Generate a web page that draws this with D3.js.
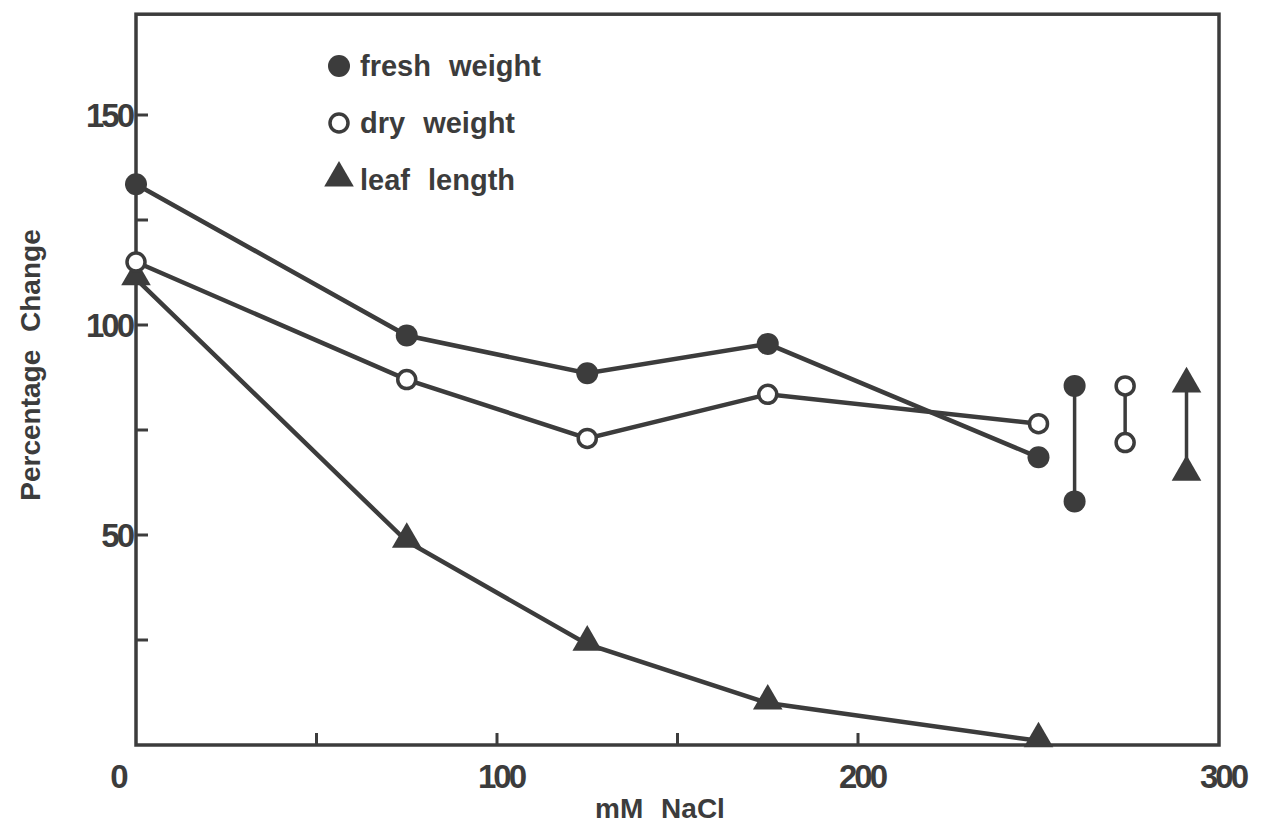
<!DOCTYPE html>
<html>
<head>
<meta charset="utf-8">
<script src="https://cdn.jsdelivr.net/npm/d3@7"></script>
<style>
  body { margin: 0; background: #fff; }
  svg text { font-family: "Liberation Sans", Arial, sans-serif; fill: #3c3c3c; font-weight: bold; }
</style>
</head>
<body>
<div class="chart"></div>
<script>
// values
const nacl = [0, 75, 125, 175, 250];
const freshWeight = [133.5, 97.5, 88.5, 95.5, 68.5];
const dryWeight = [115, 87, 73, 83.5, 76.5];
const leafLength = [111, 48.5, 24, 10, 1];

// error bars drawn at the right hand side (x position, top, bottom)
const barX = [260, 274, 291];
const barTop = [85.5, 85.5, 85.5];
const barBottom = [58, 72, 64.5];

const xTicks = [0, 100, 200, 300];
const xMinor = [50, 150, 250];
const yTicks = [50, 100, 150];
const yMinor = [25, 75, 125];

const w = 1272;
const h = 824;
const ink = '#3c3c3c';

const x = d3.scaleLinear().domain([0, 300]).range([136, 1219]);
const y = d3.scaleLinear().domain([0, 150]).range([745, 115]);
const yTop = 174;

const svg = d3.select('.chart')
  .append('svg')
  .attr('width', w)
  .attr('height', h);

// frame
svg.append('rect')
  .attr('x', x(0))
  .attr('y', y(yTop))
  .attr('width', x(300) - x(0))
  .attr('height', y(0) - y(yTop))
  .attr('fill', 'none')
  .attr('stroke', ink)
  .attr('stroke-width', 3.5);

// ticks point inward
svg.selectAll('.xtick')
  .data(xTicks.concat(xMinor).filter(d => d > 0 && d < 300))
  .enter()
  .append('line')
  .attr('x1', d => x(d)).attr('x2', d => x(d))
  .attr('y1', y(0)).attr('y2', y(0) - 12)
  .attr('stroke', ink).attr('stroke-width', 3);

svg.selectAll('.ytick')
  .data(yTicks.concat(yMinor))
  .enter()
  .append('line')
  .attr('x1', x(0)).attr('x2', x(0) + 12)
  .attr('y1', d => y(d)).attr('y2', d => y(d))
  .attr('stroke', ink).attr('stroke-width', 3);

svg.selectAll('.xlabel')
  .data(xTicks)
  .enter()
  .append('text')
  .attr('x', d => d === 0 ? x(d) - 18 : x(d) + 4)
  .attr('y', 788)
  .attr('text-anchor', 'middle')
  .style('font-size', '33px')
  .style('letter-spacing', '-3px')
  .text(d => d);

svg.selectAll('.ylabel')
  .data(yTicks)
  .enter()
  .append('text')
  .attr('x', x(0) - 4)
  .attr('y', d => y(d) + 12)
  .attr('text-anchor', 'end')
  .style('font-size', '33px')
  .style('letter-spacing', '-3px')
  .text(d => d);

svg.append('text')
  .attr('x', 660)
  .attr('y', 818)
  .attr('text-anchor', 'middle')
  .style('font-size', '28px')
  .style('word-spacing', '10px')
  .text('mM NaCl');

svg.append('text')
  .attr('transform', 'translate(40,365) rotate(-90)')
  .attr('text-anchor', 'middle')
  .style('font-size', '28px')
  .style('word-spacing', '10px')
  .text('Percentage Change');

const line = d3.line()
  .x(d => x(d[0]))
  .y(d => y(d[1]));

const series = [
  {name: 'fresh weight', values: freshWeight, shape: 'filled'},
  {name: 'dry weight', values: dryWeight, shape: 'open'},
  {name: 'leaf length', values: leafLength, shape: 'triangle'}
];

const triangle = d3.symbol().type(d3.symbolTriangle).size(380);

function drawMarker(g, shape, cx, cy) {
  if (shape === 'triangle') {
    g.append('path')
      .attr('d', triangle())
      .attr('transform', `translate(${cx},${cy - 2})`)
      .attr('fill', ink);
  } else {
    g.append('circle')
      .attr('cx', cx).attr('cy', cy)
      .attr('r', shape === 'open' ? 9 : 11)
      .attr('fill', shape === 'open' ? '#fff' : ink)
      .attr('stroke', ink)
      .attr('stroke-width', shape === 'open' ? 3.5 : 0);
  }
}

// lines first, markers on top
series.slice().reverse().forEach(s => {
  svg.append('path')
    .datum(nacl.map((n, i) => [n, s.values[i]]))
    .attr('d', line)
    .attr('fill', 'none')
    .attr('stroke', ink)
    .attr('stroke-width', 4.5);
});

series.slice().reverse().forEach(s => {
  const g = svg.append('g');
  nacl.forEach((n, i) => drawMarker(g, s.shape, x(n), y(s.values[i])));
});

// error bars
series.forEach((s, i) => {
  const g = svg.append('g');
  g.append('line')
    .attr('x1', x(barX[i])).attr('x2', x(barX[i]))
    .attr('y1', y(barTop[i])).attr('y2', y(barBottom[i]))
    .attr('stroke', ink).attr('stroke-width', 3.5);
  drawMarker(g, s.shape, x(barX[i]), y(barTop[i]));
  drawMarker(g, s.shape, x(barX[i]), y(barBottom[i]));
});

// legend
const legend = svg.append('g');
series.forEach((s, i) => {
  const ly = 66 + i * 57;
  drawMarker(legend, s.shape, 339, ly);
  legend.append('text')
    .attr('x', 360)
    .attr('y', ly + 10)
    .style('font-size', '29px')
    .style('word-spacing', '10px')
    .text(s.name);
});
</script>
</body>
</html>
